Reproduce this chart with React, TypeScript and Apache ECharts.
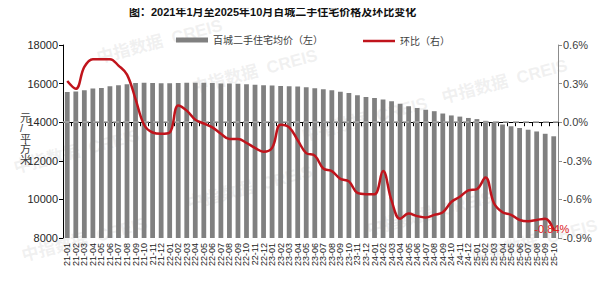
import React, { useEffect, useRef } from "react";
import * as echarts from "echarts";

const years = ["21", "22", "23", "24", "25"];
const months = ["01", "02", "03", "04", "05", "06", "07", "08", "09", "10", "11", "12"];
const categories: string[] = [];
years.forEach((y) => months.forEach((m) => { if (categories.length < 58) categories.push(`${y}-${m}`); }));

const priceAvg = [
  15560, 15590, 15650, 15740, 15770, 15860, 15910, 15960, 16030, 16040,
  16030, 16020, 16020, 16030, 16040, 16040, 16040, 16030, 16010, 16000,
  15990, 15970, 15940, 15920, 15900, 15880, 15860, 15850, 15810, 15760,
  15710, 15650, 15580, 15510, 15400, 15300, 15250, 15170, 15080, 14960,
  14830, 14740, 14650, 14570, 14450, 14350, 14290, 14220, 14160, 14070,
  13990, 13880, 13790, 13700, 13610, 13520, 13400, 13270,
];

const momChange = [
  0.32, 0.26, 0.43, 0.49, 0.49, 0.49, 0.44, 0.37, 0.18, -0.02,
  -0.08, -0.09, -0.08, 0.13, 0.09, 0.02, -0.01, -0.04, -0.09, -0.13,
  -0.13, -0.16, -0.2, -0.23, -0.2, -0.02, -0.04, -0.14, -0.24, -0.26,
  -0.36, -0.38, -0.44, -0.46, -0.55, -0.56, -0.56, -0.38, -0.61, -0.75,
  -0.71, -0.73, -0.74, -0.72, -0.7, -0.62, -0.58, -0.53, -0.52, -0.43,
  -0.63, -0.7, -0.72, -0.76, -0.77, -0.76, -0.75, -0.84,
];

const leftTicks = { min: 8000, max: 18000, interval: 2000 };
const rightTicks = { min: -0.9, max: 0.6, interval: 0.3 };

const titleText = "图：2021年1月至2025年10月百城二手住宅价格及环比变化";
const barName = "百城二手住宅均价（左）";
const lineName = "环比（右）";
const unitName = "元\n/\n平\n方\n米";
const watermark = "中指数据  CREIS";

const FONT = "'Liberation Sans', Arial, 'Noto Sans CJK SC', sans-serif";

export default function App() {
  const ref = useRef<HTMLDivElement>(null);
  useEffect(() => {
    if (!ref.current) return;
    const chart = echarts.init(ref.current, null, { renderer: "svg" });
    const wmPos = [
      [95, 50], [190, 80], [440, 90], [12, 160], [185, 196], [365, 222], [300, 128], [470, 250], [20, 248],
    ];
    const lineData = momChange.map((v, i) =>
      i === momChange.length - 1
        ? {
            value: v,
            label: {
              show: true,
              position: "inside",
              offset: [-2, -1],
              formatter: (p: any) => `${p.value.toFixed(2)}%`,
              color: "#e0201c",
              fontSize: 11,
              fontFamily: FONT,
            },
          }
        : v
    );
    chart.setOption({
      animation: false,
      backgroundColor: "#ffffff",
      textStyle: { fontFamily: FONT },
      title: {
        text: titleText,
        left: 124,
        top: 1,
        textStyle: { fontSize: 11, fontWeight: "bold", color: "#111", fontFamily: FONT },
      },
      legend: [
        {
          data: [{ name: barName, icon: "rect" }],
          left: 171,
          top: 30,
          itemWidth: 32,
          itemHeight: 5,
          itemGap: 5,
          textStyle: { fontSize: 10, color: "#404040", fontFamily: FONT },
        },
        {
          data: [{ name: lineName, icon: "rect" }],
          left: 358,
          top: 31,
          itemWidth: 32,
          itemHeight: 2.5,
          textStyle: { fontSize: 10, color: "#404040", fontFamily: FONT },
        },
      ],
      grid: { left: 63, right: 58, top: 45, bottom: 44, containLabel: false },
      xAxis: {
        type: "category",
        data: categories,
        boundaryGap: true,
        axisLine: { show: true, lineStyle: { color: "#000", width: 1 } },
        axisTick: { show: true, length: 4, alignWithLabel: false, lineStyle: { color: "#000" } },
        axisLabel: { rotate: 90, interval: 0, fontSize: 9, color: "#222", margin: 5, fontFamily: FONT },
      },
      yAxis: [
        {
          type: "value",
          min: leftTicks.min,
          max: leftTicks.max,
          interval: leftTicks.interval,
          axisLine: { show: true, lineStyle: { color: "#000" } },
          axisTick: { show: true, length: 4, lineStyle: { color: "#000" } },
          axisLabel: {
            fontSize: 11,
            color: "#262626",
            margin: 5,
            fontFamily: FONT,
            formatter: (v: number) => String(v),
          },
          splitLine: { show: false },
        },
        {
          type: "value",
          min: rightTicks.min,
          max: rightTicks.max,
          interval: rightTicks.interval,
          position: "right",
          axisLine: { show: true, lineStyle: { color: "#8c8c8c" } },
          axisTick: { show: true, length: 4, lineStyle: { color: "#8c8c8c" } },
          axisLabel: {
            fontSize: 11,
            color: "#404040",
            margin: 5,
            fontFamily: FONT,
            formatter: (v: number) => `${v.toFixed(1)}%`,
          },
          splitLine: { show: false },
        },
      ],
      graphic: [
        ...wmPos.map(([x, y]) => ({
          type: "text",
          x,
          y,
          rotation: 0.26,
          silent: true,
          z: 0,
          style: {
            text: watermark,
            fontSize: 17,
            fontWeight: "bold",
            fill: "rgba(190,190,190,0.22)",
            fontFamily: FONT,
          },
        })),
        {
          type: "text",
          left: 20,
          top: 112,
          style: {
            text: unitName,
            fontSize: 11,
            lineHeight: 10.5,
            fill: "#404040",
            fontFamily: FONT,
            align: "center",
          },
        },
      ],
      series: [
        {
          name: barName,
          type: "bar",
          data: priceAvg,
          yAxisIndex: 0,
          barWidth: "56%",
          itemStyle: { color: "#808080" },
          z: 2,
        },
        {
          name: lineName,
          type: "line",
          yAxisIndex: 1,
          data: lineData,
          smooth: 0.4,
          symbol: "circle",
          symbolSize: 0,
          showSymbol: true,
          showAllSymbol: true,
          lineStyle: { color: "#c0141c", width: 2.5 },
          itemStyle: { color: "#c0141c" },
          z: 4,
          markLine: {
            silent: true,
            symbol: ["none", "none"],
            label: { show: false },
            lineStyle: { color: "#a6a6a6", type: [6, 4], width: 1.5 },
            data: [{ yAxis: 0 }],
            z: 3,
          },
        },
      ],
    });
    return () => chart.dispose();
  }, []);
  return <div ref={ref} style={{ width: 616, height: 282, margin: -8 }} />;
}
